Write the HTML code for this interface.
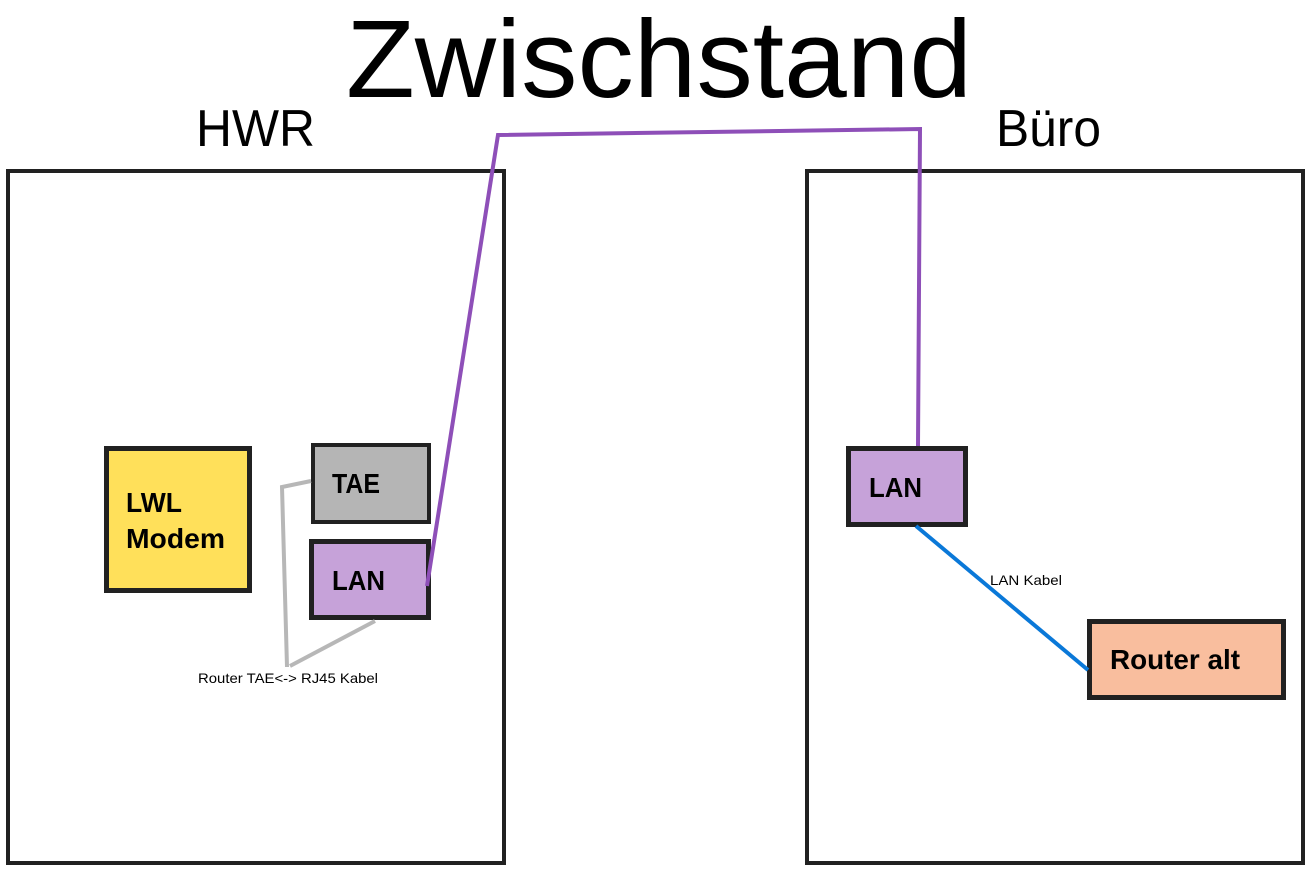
<!DOCTYPE html>
<html>
<head>
<meta charset="utf-8">
<title>Zwischenstand</title>
<style>
html,body{margin:0;padding:0;background:#fff;width:1316px;height:875px;overflow:hidden}
svg{display:block}
text{font-family:"Liberation Sans",sans-serif;fill:#000}
.b{font-weight:bold;font-size:28px}
.s{font-size:14px}
</style>
</head>
<body>
<svg width="1316" height="875" viewBox="0 0 1316 875" xmlns="http://www.w3.org/2000/svg">
<rect width="1316" height="875" fill="#fff"/>

<text x="346" y="97" font-size="110" textLength="626" lengthAdjust="spacingAndGlyphs">Zwischstand</text>
<text x="196" y="146" font-size="52" textLength="119" lengthAdjust="spacingAndGlyphs">HWR</text>
<text x="996" y="146" font-size="52" textLength="105" lengthAdjust="spacingAndGlyphs">Büro</text>

<rect x="8" y="171" width="496" height="692" fill="#fff" stroke="#212121" stroke-width="4"/>
<rect x="807" y="171" width="496" height="692" fill="#fff" stroke="#212121" stroke-width="4"/>

<rect x="106.500" y="448.500" width="143" height="142" fill="#ffe05a" stroke="#212121" stroke-width="5"/>
<rect x="313" y="445" width="116" height="77" fill="#b5b5b5" stroke="#212121" stroke-width="4"/>
<rect x="311.500" y="541.500" width="117" height="76" fill="#c6a2d9" stroke="#212121" stroke-width="5"/>
<rect x="848.500" y="448.500" width="117" height="76" fill="#c6a2d9" stroke="#212121" stroke-width="5"/>
<rect x="1089.500" y="621.500" width="194" height="76" fill="#f9be9e" stroke="#212121" stroke-width="5"/>

<polyline points="311,481 282,487 287,667" fill="none" stroke="#b7b7b7" stroke-width="4"/>
<line x1="290" y1="666" x2="375" y2="621" stroke="#b7b7b7" stroke-width="4"/>
<polyline points="427,586 498,135 920,129 918,446" fill="none" stroke="#8e4fb8" stroke-width="4"/>
<line x1="916" y1="526" x2="1088" y2="670" stroke="#0a78d8" stroke-width="4"/>

<text class="b" x="126" y="512" textLength="56" lengthAdjust="spacingAndGlyphs">LWL</text>
<text class="b" x="126" y="548" textLength="99" lengthAdjust="spacingAndGlyphs">Modem</text>
<text class="b" x="332" y="493" textLength="48" lengthAdjust="spacingAndGlyphs">TAE</text>
<text class="b" x="332" y="590" textLength="53" lengthAdjust="spacingAndGlyphs">LAN</text>
<text class="b" x="869" y="497" textLength="53" lengthAdjust="spacingAndGlyphs">LAN</text>
<text class="b" x="1110" y="669" textLength="130" lengthAdjust="spacingAndGlyphs">Router alt</text>

<text class="s" x="198" y="683" textLength="180" lengthAdjust="spacingAndGlyphs">Router TAE&lt;-&gt; RJ45 Kabel</text>
<text class="s" x="990" y="585" textLength="72" lengthAdjust="spacingAndGlyphs">LAN Kabel</text>
</svg>
</body>
</html>
